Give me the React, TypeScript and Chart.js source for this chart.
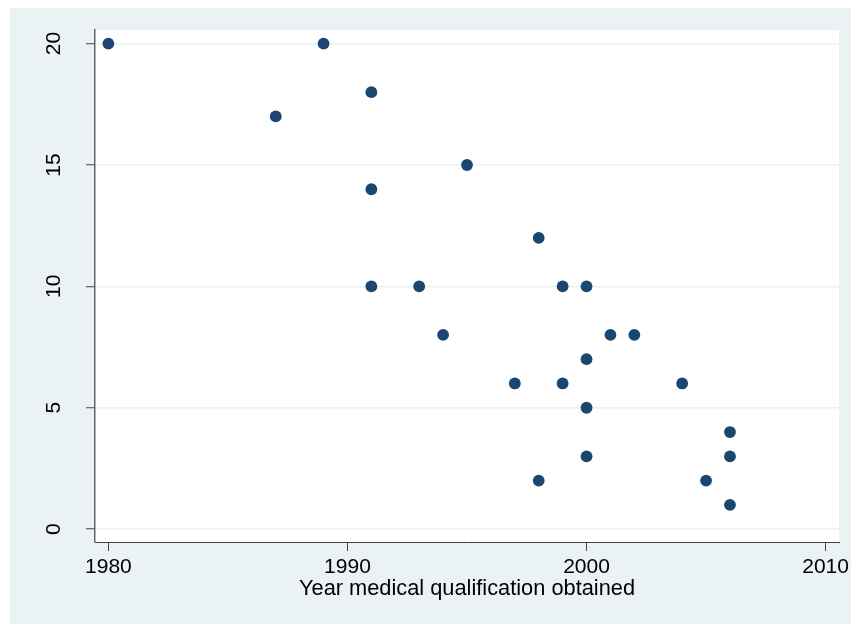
import React, { useEffect, useRef } from "react";
import { Chart, registerables } from "chart.js";

Chart.register(...registerables);

const years = [1980, 1989, 1987, 1991, 1995, 1991, 1998, 1991, 1993, 1999, 2000, 1994, 2001, 2002, 1997, 1999, 2004, 2000, 2000, 2000, 1998, 2006, 2006, 2005, 2006];
const values = [20, 20, 17, 18, 15, 14, 12, 10, 10, 10, 10, 8, 8, 8, 6, 6, 6, 7, 5, 3, 2, 4, 3, 2, 1];
const xTicks = [1980, 1990, 2000, 2010];
const yTicks = [0, 5, 10, 15, 20];
const xTitle = "Year medical qualification obtained";

const FONT = "'Liberation Sans', Arial, sans-serif";
const BG = "#EAF2F3";
const MARK = "#1A476F";

const bgPlugin = {
  id: "bgPlugin",
  beforeDraw(chart: any) {
    const { ctx, chartArea, width, height } = chart;
    ctx.save();
    ctx.fillStyle = BG;
    ctx.fillRect(0, 0, width, height);
    ctx.fillStyle = "#ffffff";
    ctx.fillRect(chartArea.left, chartArea.top, chartArea.right - chartArea.left, chartArea.bottom - chartArea.top);
    ctx.restore();
  },
};

const yLabelPlugin = {
  id: "yLabelPlugin",
  afterDraw(chart: any) {
    const { ctx } = chart;
    const ys = chart.scales.y;
    ctx.save();
    ctx.fillStyle = "#000";
    ctx.font = `21px ${FONT}`;
    ctx.textAlign = "center";
    ctx.textBaseline = "middle";
    for (const t of ys.ticks) {
      const py = ys.getPixelForValue(t.value);
      ctx.save();
      ctx.translate(43, py);
      ctx.rotate(-Math.PI / 2);
      ctx.fillText(String(t.value), 0, 1);
      ctx.restore();
    }
    ctx.restore();
  },
};

export default function App() {
  const ref = useRef<HTMLCanvasElement | null>(null);
  useEffect(() => {
    if (!ref.current) return;
    const chart = new Chart(ref.current, {
      type: "scatter",
      data: {
        datasets: [
          {
            data: years.map((x, i) => ({ x, y: values[i] })),
            backgroundColor: MARK,
            borderColor: MARK,
            borderWidth: 0,
            pointRadius: 5.9,
            pointHoverRadius: 5.9,
          },
        ],
      },
      options: {
        responsive: false,
        animation: false,
        events: [],
        layout: { padding: { left: 0, top: 22, right: 12, bottom: 0 } },
        plugins: { legend: { display: false }, tooltip: { enabled: false } },
        scales: {
          x: {
            type: "linear",
            min: 1979.44,
            max: 2010.56,
            afterBuildTicks: (s: any) => {
              s.ticks = xTicks.map((v) => ({ value: v }));
            },
            afterFit: (s: any) => {
              s.height = 82;
              s.paddingLeft = 0;
              s.paddingRight = 0;
            },
            grid: { drawOnChartArea: false, drawTicks: true, tickLength: 9, tickColor: "#444", tickWidth: 1 },
            border: { display: true, color: "#444", width: 1 },
            ticks: {
              color: "#000",
              font: { family: FONT, size: 21 },
              padding: 4,
              maxRotation: 0,
              autoSkip: false,
              callback: (v: any) => String(v),
            },
            title: { display: true, text: xTitle, color: "#000", font: { family: FONT, size: 21.8 }, padding: { top: 0, bottom: 22 } },
          },
          y: {
            type: "linear",
            min: -0.53,
            max: 20.56,
            afterBuildTicks: (s: any) => {
              s.ticks = yTicks.map((v) => ({ value: v }));
            },
            afterFit: (s: any) => {
              s.width = 85;
              s.paddingTop = 0;
              s.paddingBottom = 0;
            },
            grid: { drawOnChartArea: true, color: BG, lineWidth: 1.5, drawTicks: true, tickLength: 9, tickColor: "#444", tickWidth: 1 },
            border: { display: true, color: "#666", width: 1.5 },
            ticks: { display: false },
          },
        },
      },
      plugins: [bgPlugin, yLabelPlugin],
    });
    return () => chart.destroy();
  }, []);
  return (
    <div style={{ position: "absolute", left: 0, top: 0, width: 851, height: 624, background: "#fff", overflow: "hidden" }}>
      <canvas ref={ref} width={841} height={616} style={{ position: "absolute", left: 10, top: 8, display: "block" }} />
    </div>
  );
}
